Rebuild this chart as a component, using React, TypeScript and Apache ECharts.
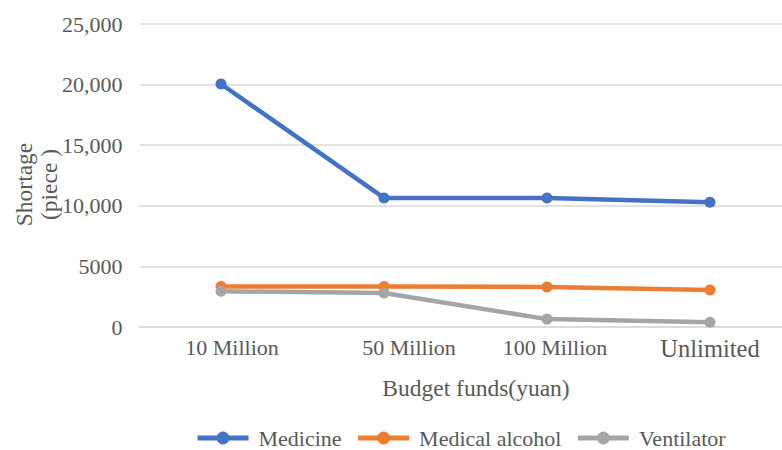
import React, { useEffect, useRef } from "react";
import * as echarts from "echarts";

const categories = ["10 Million", "50 Million", "100 Million", "Unlimited"];
const medicine = [20050, 10650, 10650, 10300];
const medicalAlcohol = [3350, 3350, 3300, 3050];
const ventilator = [2950, 2800, 650, 400];
const yTickLabels = ["0", "5000", "10,000", "15,000", "20,000", "25,000"];
const seriesNames = ["Medicine", "Medical alcohol", "Ventilator"];
const colors = ["#4472C4", "#ED7D31", "#A5A5A5"];

const FONT = "Liberation Serif";
const TEXT = "#595959";

export default function App() {
  const ref = useRef<HTMLDivElement>(null);
  useEffect(() => {
    if (!ref.current) return;
    const chart = echarts.init(ref.current, undefined, { renderer: "svg" });
    const richKeys = ["a", "b", "c", "d"];
    const mk = (name: string, data: number[], color: string) => ({
      name,
      type: "line",
      data,
      symbol: "circle",
      symbolSize: 11,
      lineStyle: { width: 4.5, color },
      itemStyle: { color },
      emphasis: { disabled: true },
    });
    chart.setOption({
      animation: false,
      color: colors,
      textStyle: { fontFamily: FONT, color: TEXT },
      grid: {
        left: 139.5,
        right: -9.5,
        top: 24,
        bottom: 123,
        containLabel: false,
        outerBoundsMode: "none",
      },
      legend: {
        data: seriesNames,
        left: 195,
        top: 427,
        padding: 0,
        itemWidth: 51,
        itemHeight: 16,
        itemGap: 14,
        lineStyle: { width: 5 },
        textStyle: { fontFamily: FONT, fontSize: 22, color: TEXT, padding: [0, 0, 0, 5] },
      },
      xAxis: {
        type: "category",
        data: categories,
        boundaryGap: true,
        name: "Budget funds(yuan)",
        nameLocation: "middle",
        nameGap: 49,
        nameTextStyle: { fontFamily: FONT, fontSize: 23.5, color: TEXT, padding: [0, 0, 0, 21] },
        axisLine: { lineStyle: { color: "#d9d9d9", width: 1.5 } },
        axisTick: { show: false },
        axisLabel: {
          interval: 0,
          margin: 9,
          fontFamily: FONT,
          fontSize: 22,
          color: TEXT,
          formatter: (v: string) => {
            const i = categories.indexOf(v);
            return "{" + richKeys[i] + "|" + v + "}";
          },
          rich: {
            a: { fontFamily: FONT, fontSize: 22, color: TEXT, padding: [0, 0, 0, 22] },
            b: { fontFamily: FONT, fontSize: 22, color: TEXT, padding: [0, 0, 0, 50] },
            c: { fontFamily: FONT, fontSize: 22, color: TEXT, padding: [0, 0, 0, 16] },
            d: { fontFamily: FONT, fontSize: 24.5, color: TEXT },
          },
        },
      },
      yAxis: {
        type: "value",
        min: 0,
        max: 25000,
        interval: 5000,
        name: "Shortage\n(piece )",
        nameLocation: "middle",
        nameRotate: 90,
        nameGap: 78,
        nameMoveOverlap: false,
        nameTextStyle: {
          fontFamily: FONT,
          fontSize: 23.5,
          color: TEXT,
          lineHeight: 25,
          padding: [0, 18, 0, 0],
        },
        axisLine: { show: false },
        axisTick: { show: false },
        splitLine: { lineStyle: { color: "#d9d9d9", width: 1.5 } },
        axisLabel: {
          margin: 17,
          fontFamily: FONT,
          fontSize: 22,
          color: TEXT,
          formatter: (v: number) => yTickLabels[Math.round(v / 5000)] ?? String(v),
        },
      },
      series: [
        mk(seriesNames[0], medicine, colors[0]),
        mk(seriesNames[1], medicalAlcohol, colors[1]),
        mk(seriesNames[2], ventilator, colors[2]),
      ],
    });
    return () => chart.dispose();
  }, []);
  return (
    <div
      ref={ref}
      style={{ position: "absolute", left: 0, top: 0, width: 782, height: 450, background: "#fff" }}
    />
  );
}
